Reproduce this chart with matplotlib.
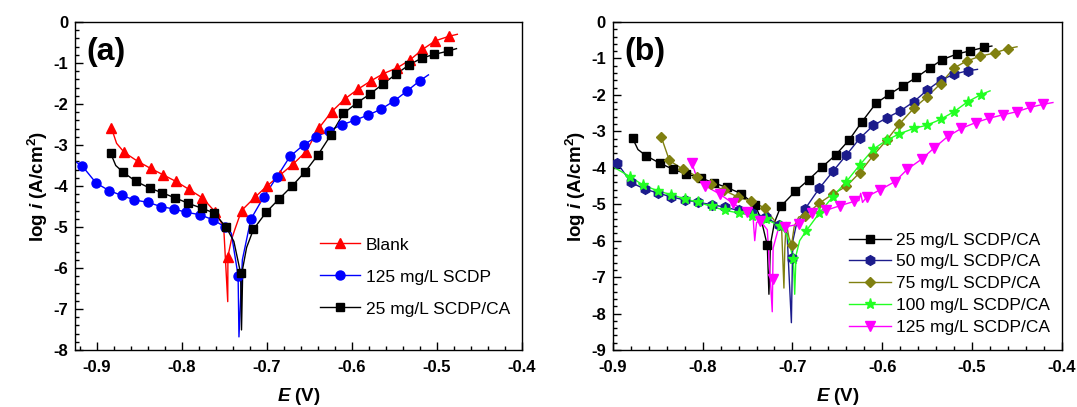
import numpy as np
import matplotlib
matplotlib.use('Agg')
import matplotlib.pyplot as plt
from matplotlib.ticker import MultipleLocator

plt.rcParams['font.family'] = ['Liberation Sans', 'DejaVu Sans']
plt.rcParams['axes.unicode_minus'] = False
plt.rcParams['mathtext.fontset'] = 'custom'
plt.rcParams['mathtext.rm'] = 'Liberation Sans:bold'
plt.rcParams['mathtext.it'] = 'Liberation Sans:italic:bold'
plt.rcParams['mathtext.bf'] = 'Liberation Sans:bold'

# ---- (a) Tafel curves: marker points + extra points of the line near Ecorr ----
a_blank_e = [-0.883, -0.868, -0.852, -0.837, -0.822, -0.807, -0.792, -0.776, -0.761, -0.746,
             -0.730, -0.714, -0.700, -0.685, -0.669, -0.654, -0.639, -0.624, -0.608, -0.593,
             -0.578, -0.563, -0.547, -0.532, -0.517, -0.502, -0.486]
a_blank_i = [-2.59, -3.18, -3.40, -3.57, -3.73, -3.89, -4.08, -4.29, -4.63, -5.72,
             -4.60, -4.27, -4.00, -3.74, -3.46, -3.16, -2.59, -2.19, -1.87, -1.64,
             -1.44, -1.26, -1.12, -0.93, -0.67, -0.46, -0.35]
a_blank_xe = [-0.877, -0.751, -0.7462, -0.742, -0.738, -0.476]
a_blank_xi = [-2.96, -4.99, -6.82, -5.32, -5.07, -0.30]

a_scdp_e = [-0.9175, -0.901, -0.886, -0.871, -0.856, -0.840, -0.825, -0.810, -0.795, -0.779,
            -0.764, -0.749, -0.734, -0.719, -0.704, -0.688, -0.673, -0.657, -0.642, -0.627,
            -0.612, -0.596, -0.581, -0.566, -0.550, -0.535, -0.520]
a_scdp_i = [-3.51, -3.93, -4.11, -4.23, -4.34, -4.40, -4.50, -4.56, -4.64, -4.70,
            -4.82, -5.00, -6.19, -4.81, -4.27, -3.77, -3.28, -3.00, -2.80, -2.65,
            -2.51, -2.39, -2.27, -2.13, -1.92, -1.68, -1.43]
a_scdp_xe = [-0.926, -0.742, -0.733, -0.729, -0.510]
a_scdp_xi = [-3.40, -5.15, -7.68, -5.80, -1.29]

a_ca_e = [-0.884, -0.869, -0.854, -0.838, -0.823, -0.808, -0.793, -0.777, -0.762, -0.748,
          -0.731, -0.716, -0.701, -0.686, -0.670, -0.655, -0.640, -0.625, -0.610, -0.594,
          -0.579, -0.564, -0.548, -0.533, -0.518, -0.503, -0.487]
a_ca_i = [-3.20, -3.67, -3.89, -4.05, -4.17, -4.29, -4.42, -4.54, -4.66, -5.01,
          -6.13, -5.06, -4.64, -4.32, -3.99, -3.65, -3.24, -2.76, -2.23, -1.97,
          -1.76, -1.52, -1.27, -1.05, -0.88, -0.79, -0.71]
a_ca_xe = [-0.878, -0.739, -0.7300, -0.7285, -0.724, -0.477]
a_ca_xi = [-3.50, -5.35, -7.51, -6.00, -5.50, -0.65]

# ---- (b) Tafel curves for SCDP/CA concentrations ----
b_25_e = [-0.878, -0.863, -0.848, -0.833, -0.818, -0.802, -0.787, -0.773, -0.757, -0.742,
          -0.728, -0.713, -0.697, -0.682, -0.667, -0.652, -0.637, -0.623, -0.607, -0.592,
          -0.577, -0.562, -0.547, -0.533, -0.517, -0.502, -0.487]
b_25_i = [-3.19, -3.67, -3.87, -4.04, -4.17, -4.28, -4.42, -4.54, -4.71, -5.01,
          -6.13, -5.06, -4.65, -4.33, -3.98, -3.65, -3.24, -2.75, -2.23, -1.98,
          -1.75, -1.52, -1.26, -1.03, -0.88, -0.79, -0.70]
b_25_xe = [-0.872, -0.735, -0.7262, -0.7245, -0.720, -0.478]
b_25_xi = [-3.50, -5.40, -7.47, -6.10, -5.50, -0.66]

b_50_e = [-0.895, -0.880, -0.864, -0.850, -0.835, -0.820, -0.805, -0.790, -0.775, -0.760,
          -0.745, -0.730, -0.715, -0.700, -0.686, -0.670, -0.655, -0.640, -0.625, -0.610,
          -0.595, -0.580, -0.565, -0.550, -0.535, -0.520, -0.505]
b_50_i = [-3.87, -4.40, -4.59, -4.69, -4.80, -4.88, -4.95, -5.01, -5.08, -5.17,
          -5.24, -5.35, -5.58, -6.47, -5.13, -4.56, -4.10, -3.65, -3.19, -2.84,
          -2.63, -2.44, -2.19, -1.87, -1.60, -1.43, -1.34]
b_50_xe = [-0.900, -0.706, -0.7012, -0.6995, -0.696, -0.494]
b_50_xi = [-3.80, -5.80, -8.25, -6.00, -5.60, -1.30]

b_75_e = [-0.846, -0.837, -0.822, -0.806, -0.791, -0.776, -0.761, -0.746, -0.731, -0.701,
          -0.686, -0.670, -0.655, -0.640, -0.625, -0.610, -0.595, -0.581, -0.565, -0.550,
          -0.535, -0.520, -0.506, -0.491, -0.475, -0.460]
b_75_i = [-3.16, -3.80, -4.04, -4.24, -4.44, -4.62, -4.80, -4.92, -5.10, -6.12,
          -5.31, -4.97, -4.72, -4.51, -4.13, -3.66, -3.24, -2.80, -2.37, -2.05,
          -1.69, -1.26, -1.07, -0.94, -0.85, -0.73]
b_75_xe = [-0.720, -0.712, -0.7095, -0.7085, -0.707, -0.704, -0.698, -0.693, -0.450]
b_75_xi = [-5.45, -5.70, -7.30, -6.20, -5.50, -5.90, -5.60, -5.35, -0.68]

b_100_e = [-0.881, -0.866, -0.850, -0.835, -0.820, -0.805, -0.790, -0.775, -0.760, -0.745,
           -0.730, -0.714, -0.699, -0.685, -0.670, -0.655, -0.640, -0.625, -0.610, -0.595,
           -0.581, -0.565, -0.550, -0.535, -0.520, -0.505, -0.490]
b_100_i = [-4.24, -4.48, -4.63, -4.74, -4.85, -4.95, -5.06, -5.17, -5.24, -5.31,
           -5.41, -5.59, -6.50, -5.74, -5.24, -4.79, -4.38, -3.92, -3.49, -3.24,
           -3.07, -2.92, -2.83, -2.67, -2.46, -2.19, -1.99]
b_100_xe = [-0.900, -0.706, -0.6975, -0.696, -0.692, -0.480]
b_100_xi = [-3.97, -5.85, -7.47, -6.40, -6.00, -1.89]

b_125_e = [-0.812, -0.797, -0.781, -0.766, -0.751, -0.736, -0.722, -0.708, -0.693, -0.678,
           -0.663, -0.647, -0.631, -0.617, -0.602, -0.586, -0.572, -0.556, -0.542, -0.527,
           -0.512, -0.496, -0.481, -0.466, -0.450, -0.435, -0.421]
b_125_i = [-3.87, -4.50, -4.72, -4.98, -5.20, -5.45, -7.05, -5.62, -5.55, -5.25,
           -5.17, -5.04, -4.92, -4.79, -4.60, -4.38, -4.04, -3.76, -3.45, -3.14,
           -2.92, -2.76, -2.64, -2.55, -2.46, -2.34, -2.26]
b_125_xe = [-0.806, -0.744, -0.742, -0.740, -0.728, -0.7225, -0.7215, -0.716, -0.626, -0.624, -0.622, -0.410]
b_125_xi = [-4.30, -5.30, -6.00, -5.50, -5.70, -7.95, -6.20, -5.70, -4.90, -4.70, -4.95, -2.21]

tick_fs = 12
label_fs = 13.5
leg_fs = 12.5


def draw(ax, e, i, xe, xi, color, marker, label, ms=6.5):
    le = np.concatenate([e, xe])
    li = np.concatenate([i, xi])
    order = np.argsort(le, kind='stable')
    ax.plot(le[order], li[order], color=color, lw=1.0, zorder=2)
    ax.plot(e, i, ls='none', marker=marker, color=color, ms=ms, zorder=3)
    ax.plot([], [], color=color, lw=1.0, marker=marker, ms=ms, label=label)


def style(ax, xlim, ylim, letter):
    ax.set_xlim(*xlim)
    ax.set_ylim(*ylim)
    ax.xaxis.set_major_locator(MultipleLocator(0.1))
    ax.xaxis.set_minor_locator(MultipleLocator(0.02))
    ax.yaxis.set_major_locator(MultipleLocator(1))
    ax.yaxis.set_minor_locator(MultipleLocator(0.2))
    ax.tick_params(which='both', direction='in', top=False, right=False)
    ax.tick_params(which='major', length=6, width=1, labelsize=tick_fs)
    ax.tick_params(which='minor', length=3, width=1)
    ax.tick_params(axis='x', which='major', pad=7)
    ax.tick_params(axis='y', which='major', pad=5)
    ax.xaxis.set_major_formatter(plt.FuncFormatter(lambda v, p: '%g' % round(v, 2)))
    ax.yaxis.set_major_formatter(plt.FuncFormatter(lambda v, p: '%d' % round(v)))
    for t in ax.get_xticklabels() + ax.get_yticklabels():
        t.set_fontweight('bold')
    for s in ax.spines.values():
        s.set_linewidth(1.0)
    ax.set_xlabel(r'$\mathit{E}$ (V)', fontsize=label_fs, fontweight='bold', labelpad=8)
    ax.set_ylabel(r'log $\mathit{i}$ (A/cm$^2$)', fontsize=label_fs, fontweight='bold', labelpad=2)
    ax.text(0.025, 0.955, letter, transform=ax.transAxes, fontsize=23, fontweight='bold',
            va='top', ha='left')


fig = plt.figure(figsize=(10.77, 4.07), dpi=100)
ax1 = fig.add_axes([0.0696, 0.140, 0.415, 0.806])
ax2 = fig.add_axes([0.569, 0.140, 0.417, 0.806])

draw(ax1, a_blank_e, a_blank_i, a_blank_xe, a_blank_xi, '#FF0000', '^', 'Blank')
draw(ax1, a_scdp_e, a_scdp_i, a_scdp_xe, a_scdp_xi, '#0000FF', 'o', '125 mg/L SCDP')
draw(ax1, a_ca_e, a_ca_i, a_ca_xe, a_ca_xi, '#000000', 's', '25 mg/L SCDP/CA', ms=6)
style(ax1, (-0.926, -0.4), (-8, 0), '(a)')
ax1.legend(loc='lower right', bbox_to_anchor=(1.0, 0.065), frameon=False, fontsize=leg_fs,
           handlelength=2.3, handletextpad=0.3, labelspacing=0.97, borderpad=0.2)

draw(ax2, b_25_e, b_25_i, b_25_xe, b_25_xi, '#000000', 's', '25 mg/L SCDP/CA', ms=6)
draw(ax2, b_50_e, b_50_i, b_50_xe, b_50_xi, '#1C1C8C', 'h', '50 mg/L SCDP/CA', ms=7)
draw(ax2, b_75_e, b_75_i, b_75_xe, b_75_xi, '#808010', 'D', '75 mg/L SCDP/CA', ms=5.5)
draw(ax2, b_100_e, b_100_i, b_100_xe, b_100_xi, '#22FF22', '*', '100 mg/L SCDP/CA', ms=8)
draw(ax2, b_125_e, b_125_i, b_125_xe, b_125_xi, '#FF00FF', 'v', '125 mg/L SCDP/CA')
style(ax2, (-0.9, -0.4), (-9, 0), '(b)')
ax2.legend(loc='lower right', bbox_to_anchor=(1.0, 0.01), frameon=False, fontsize=leg_fs,
           handlelength=2.4, handletextpad=0.3, labelspacing=0.38, borderpad=0.2)

fig.savefig('out.png', dpi=100)
